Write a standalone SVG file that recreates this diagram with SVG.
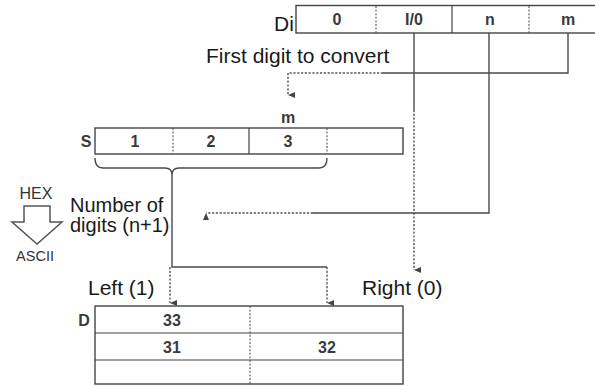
<svg xmlns="http://www.w3.org/2000/svg" width="595" height="386" viewBox="0 0 595 386">
<style>
.box{fill:#fff;stroke:#444;stroke-width:1.4}
.sep{stroke:#444;stroke-width:1.2}
.dash{stroke:#555;stroke-width:1.1;stroke-dasharray:2 1.6}
.ln{fill:none;stroke:#4a4a4a;stroke-width:1.4}
.dl{fill:none;stroke:#555;stroke-width:1.4;stroke-dasharray:2.2 1.6}
.lbl{font-family:"Liberation Sans",Arial,sans-serif;font-size:21px;fill:#1a1a1a}
.cell{font-family:"Liberation Sans",Arial,sans-serif;font-size:16px;font-weight:bold;fill:#3a3a3a;text-anchor:middle}
.sm{font-family:"Liberation Sans",Arial,sans-serif;font-size:16px;fill:#333;text-anchor:middle}
</style>
<defs>
<marker id="ah" viewBox="0 0 6 7" refX="3" refY="7" markerWidth="6" markerHeight="7" orient="auto-start-reverse" markerUnits="userSpaceOnUse">
<path d="M0,0 L6,0 L3,7 Z" fill="#444"/>
</marker>
</defs>
<rect width="595" height="386" fill="#fff"/>

<g id="node-Di">
<rect class="box" x="296" y="5.5" width="310" height="27.5"/>
<line class="dash" x1="376" y1="6" x2="376" y2="33"/>
<line class="sep" x1="452" y1="6" x2="452" y2="33"/>
<line class="dash" x1="529" y1="6" x2="529" y2="33"/>
<text class="lbl" x="274" y="31">Di</text>
<text class="cell" x="337" y="25">0</text>
<text class="cell" x="414" y="25">I/0</text>
<text class="cell" x="490" y="25">n</text>
<text class="cell" x="568" y="25">m</text>
</g>

<g id="node-S">
<rect class="box" x="95" y="128" width="308" height="26"/>
<line class="dash" x1="173" y1="128" x2="173" y2="154"/>
<line class="sep" x1="249" y1="128" x2="249" y2="154"/>
<line class="dash" x1="327" y1="128" x2="327" y2="154"/>
<text class="cell" x="86" y="147">S</text>
<text class="cell" x="135" y="147">1</text>
<text class="cell" x="211" y="147">2</text>
<text class="cell" x="288" y="147">3</text>
<text class="cell" x="288" y="123">m</text>
</g>

<g id="node-D">
<rect class="box" x="95" y="306" width="308" height="78"/>
<line class="sep" x1="95" y1="333" x2="403" y2="333"/>
<line class="sep" x1="95" y1="360" x2="403" y2="360"/>
<line class="dash" x1="250" y1="306" x2="250" y2="384"/>
<text class="cell" x="84" y="326">D</text>
<text class="cell" x="172" y="326">33</text>
<text class="cell" x="172" y="353">31</text>
<text class="cell" x="327" y="353">32</text>
</g>

<g id="node-hexascii">
<text class="sm" x="36" y="199">HEX</text>
<polygon points="24,206 50,206 50,222 62,222 37,244 12,222 24,222" fill="#fff" stroke="#555" stroke-width="1.5" stroke-linejoin="miter"/>
<text class="sm" x="35" y="261" style="font-size:14.5px">ASCII</text>
</g>

<g id="labels">
<text class="lbl" x="70" y="212" style="font-size:20px">Number of</text>
<text class="lbl" x="70" y="232" style="font-size:20px">digits (n+1)</text>
<text class="lbl" x="206" y="63">First digit to convert</text>
<text class="lbl" x="88" y="295">Left (1)</text>
<text class="lbl" x="362" y="295">Right (0)</text>
</g>

<g id="connectors">
<path class="ln" d="M568,33 V73 H383"/>
<path class="dl" d="M383,73 H288 V95" marker-end="url(#ah)"/>
<path class="ln" d="M414,33 V110"/>
<path class="dl" d="M414,110 V270" marker-end="url(#ah)"/>
<path class="ln" d="M489,33 V213 H313"/>
<path class="dl" d="M313,213 H206" marker-end="url(#ah)"/>
<path class="ln" d="M95,158 Q95,168 103,168 H165 Q172,168 172,175 Q172,168 179,168 H319 Q327,168 327,158"/>
<path class="ln" d="M172,175 V267 H327"/>
<path class="dl" d="M170,267 V303" marker-end="url(#ah)"/>
<path class="dl" d="M327,267 V303" marker-end="url(#ah)"/>
</g>
</svg>
